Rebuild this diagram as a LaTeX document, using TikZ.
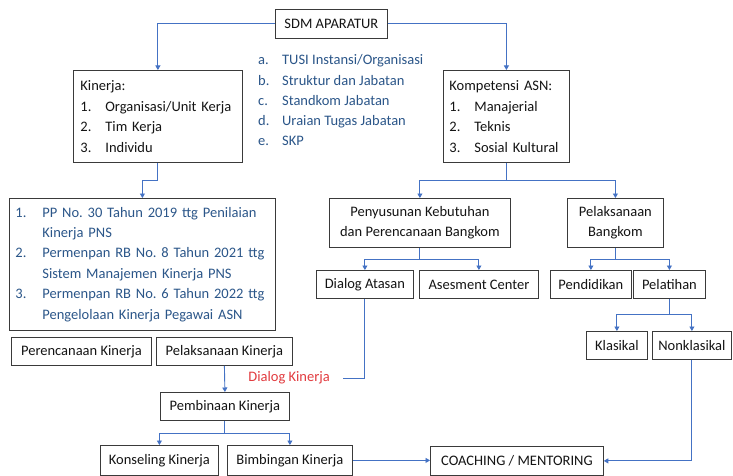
\documentclass[tikz,border=0pt]{standalone}
\usepackage{fontspec}
\setmainfont{Carlito}
\frenchspacing
\usetikzlibrary{arrows.meta}
\definecolor{lineblue}{HTML}{4472C4}
\definecolor{boxgray}{HTML}{3A3A3A}
\definecolor{textcol}{HTML}{141414}
\definecolor{listblue}{HTML}{2B5689}
\definecolor{dkred}{HTML}{E23B3F}
\tikzset{
  box/.style={draw=boxgray, line width=0.8pt, inner sep=0pt, anchor=north west,
    text=textcol, font=\fontsize{14.5}{20.5}\selectfont},
  listbox/.style={box, align=left},
  conn/.style={draw=lineblue, line width=0.9pt, -{Triangle[width=5pt,length=4.5pt]}},
  plain/.style={draw=lineblue, line width=0.9pt},
}
\newcommand{\numitem}[2]{\makebox[#1][l]{#2}}
\begin{document}
\begin{tikzpicture}[x=1pt,y=-1pt]
\useasboundingbox[fill=white] (0,0) rectangle (733,476);

% top
\node[box, minimum width=112pt, minimum height=29pt] (sdm) at (275,9) {SDM APARATUR};

\node[listbox, text width=155pt, inner xsep=7pt, minimum height=92pt] (kin) at (73,70)
  {Kinerja:\\\numitem{25pt}{1.}Organisasi/Unit Kerja\\\numitem{25pt}{2.}Tim Kerja\\\numitem{25pt}{3.}Individu};

\node[listbox, text width=114pt, inner xsep=6pt, minimum height=92pt] (komp) at (443,70)
  {Kompetensi ASN:\\\numitem{25pt}{1.}Manajerial\\\numitem{25pt}{2.}Teknis\\\numitem{25pt}{3.}Sosial Kultural};

\node[anchor=base west, inner sep=0pt, text=listblue, font=\fontsize{14.5}{20.2}\selectfont] (abc) at (258,65)
  {\begin{tabular}[t]{@{}l@{}}
   \numitem{24pt}{a.}TUSI Instansi/Organisasi\\
   \numitem{24pt}{b.}Struktur dan Jabatan\\
   \numitem{24pt}{c.}Standkom Jabatan\\
   \numitem{24pt}{d.}Uraian Tugas Jabatan\\
   \numitem{24pt}{e.}SKP
   \end{tabular}};

% left column
\node[listbox, text=listblue, text width=254pt, inner xsep=6pt, minimum height=132pt,
      font=\fontsize{14.5}{20.4}\selectfont] (pp) at (9,198)
  {\numitem{27pt}{1.}PP No. 30 Tahun 2019 ttg Penilaian\\\hspace*{27pt}Kinerja PNS\\
   \numitem{27pt}{2.}Permenpan RB No. 8 Tahun 2021 ttg\\\hspace*{27pt}Sistem Manajemen Kinerja PNS\\
   \numitem{27pt}{3.}Permenpan RB No. 6 Tahun 2022 ttg\\\hspace*{27pt}Pengelolaan Kinerja Pegawai ASN};

\node[box, minimum width=140pt, minimum height=28pt] (perk) at (11,337) {Perencanaan Kinerja};
\node[box, minimum width=136pt, minimum height=28pt] (pelk) at (156,337) {Pelaksanaan Kinerja};
\node[box, minimum width=129pt, minimum height=28pt] (pemb) at (160,392) {Pembinaan Kinerja};
\node[box, minimum width=118pt, minimum height=30pt] (kons) at (100,445) {Konseling Kinerja};
\node[box, minimum width=125pt, minimum height=30pt] (bimb) at (227,445) {Bimbingan Kinerja};
\node[box, minimum width=173pt, minimum height=29pt] (coach) at (430,446) {COACHING / MENTORING};

% right column
\node[box, align=center, minimum width=181pt, minimum height=49pt] (peny) at (329,198)
  {Penyusunan Kebutuhan\\dan Perencanaan Bangkom};
\node[box, align=center, minimum width=96pt, minimum height=49pt] (pelb) at (567,198)
  {Pelaksanaan\\Bangkom};
\node[box, minimum width=97pt, minimum height=28pt] (dial) at (316,270) {Dialog Atasan};
\node[box, minimum width=119pt, minimum height=28pt] (ases) at (419,270) {Asesment Center};
\node[box, minimum width=81pt, minimum height=28pt] (pend) at (550,270) {Pendidikan};
\node[box, minimum width=72pt, minimum height=28pt] (pela) at (633,270) {Pelatihan};
\node[box, minimum width=61pt, minimum height=28pt] (klas) at (586,331) {Klasikal};
\node[box, minimum width=79pt, minimum height=28pt] (nonk) at (652,331) {Nonklasikal};

\node[anchor=east, inner sep=0pt, text=dkred, font=\fontsize{14.5}{17}\selectfont] (dk) at (330,378) {Dialog Kinerja};
\coordinate (dkend) at ([xshift=13pt]dk.east);

% connectors
\draw[conn] (sdm.west) -| (kin.north);
\draw[conn] (sdm.east) -| (komp.north);
\draw[conn] (kin.south) -- ++(0,18) -| (pp.north);
\draw[conn] (komp.south) -- ++(0,18) -| (peny.north);
\draw[conn] (komp.south) -- ++(0,18) -| (pelb.north);
\draw[conn] (peny.south) -- ++(0,12) -| (dial.north);
\draw[conn] (peny.south) -- ++(0,12) -| (ases.north);
\draw[conn] (pelb.south) -- ++(0,12) -| (pend.north);
\draw[conn] (pelb.south) -- ++(0,12) -| (pela.north);
\draw[conn] (pela.south) -- ++(0,16) -| (klas.north);
\draw[conn] (pela.south) -- ++(0,16) -| (nonk.north);
\draw[conn] (nonk.south) |- (coach.east);
\draw[conn] (bimb.east) -- (bimb.east -| coach.west);
\draw[conn] (pelk.south) -- (pemb.north);
\draw[conn] (pemb.south) -- ++(0,13) -| (kons.north);
\draw[conn] (pemb.south) -- ++(0,13) -| (bimb.north);
\draw[plain] (dial.south) |- (dkend);
\end{tikzpicture}
\end{document}
